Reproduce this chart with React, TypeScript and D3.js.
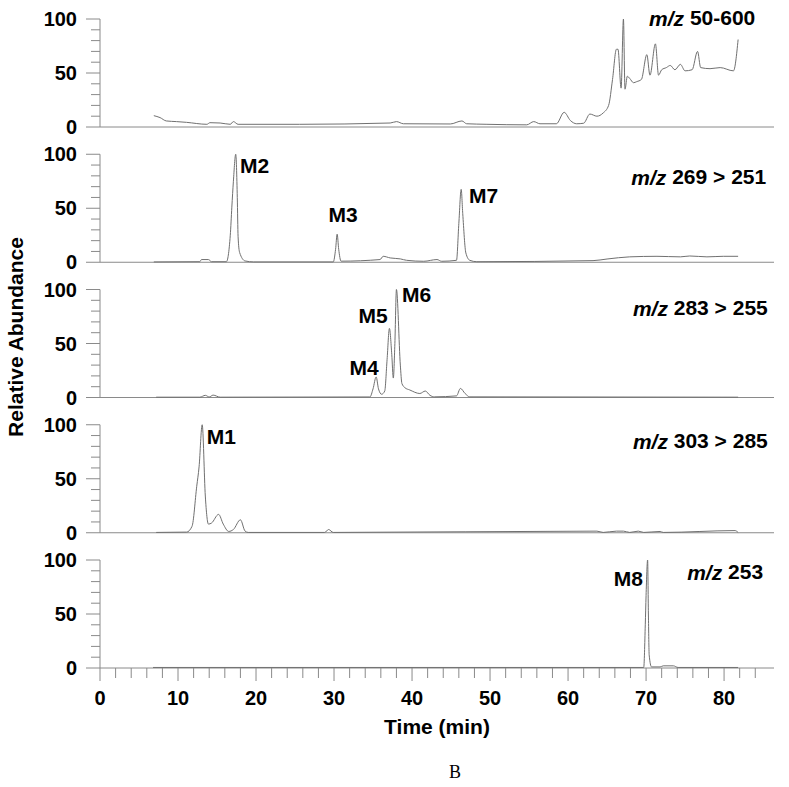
import React from 'react';
import * as d3 from 'd3';

// tick values
const timeTicks = [0, 10, 20, 30, 40, 50, 60, 70, 80];
const minorTimeTicks = d3.range(0, 86, 2);
const abundanceTicks = [0, 50, 100];
const minorAbundanceTicks = d3.range(0, 101, 10);

// channel labels (m/z) and where they sit (time, abundance)
const channelLabels = ['50-600', '269 > 251', '283 > 255', '303 > 285', '253'];
const channelLabelTime = [84.0, 85.4, 85.6, 85.6, 85.0];
const channelLabelAbund = [101, 79, 83, 85, 89];

// TIC, m/z 50-600
const ticTime = [6.9, 7.7, 8.5, 9.8, 11.1, 13.7, 14.1, 15.4, 16.7, 17.1, 17.7, 25.6, 37.2, 38.0, 38.9, 44.9, 46.4, 47.0, 49.6, 54.7, 55.6, 56.4, 58.5, 59.5, 60.3, 61.1, 62.0, 62.8, 63.7, 64.5, 65.2, 65.7, 66.2, 66.4, 66.8, 67.1, 67.3, 67.6, 67.9, 68.4, 68.8, 69.4, 70.1, 70.5, 71.2, 71.6, 72.0, 72.6, 73.1, 73.7, 74.4, 75.0, 75.9, 76.6, 77.0, 78.2, 79.5, 81.2, 81.8];
const ticAbund = [10.5, 8.7, 5.6, 5, 4.3, 2.5, 4, 3.7, 2.5, 5, 2.5, 2.5, 3.7, 5, 3, 2.8, 5.6, 3, 2.5, 2, 5, 3, 3, 13.6, 6, 3, 3.5, 12, 10, 13, 20, 44, 72, 72, 36, 100, 35, 47, 45, 41, 42, 44, 67, 48, 77, 48, 53, 55, 57, 53, 58, 52, 53, 70, 55, 54, 55, 52, 81];

// m/z 269 > 251
const mrm269Time = [6.9, 12.8, 13.0, 13.9, 14.3, 16.2, 16.7, 16.9, 17.1, 17.4, 17.6, 17.7, 17.9, 18.6, 19.7, 29.9, 30.2, 30.4, 30.6, 30.9, 35.9, 36.3, 37.2, 38.5, 39.3, 41.5, 43.2, 43.8, 45.7, 46.0, 46.3, 46.5, 46.9, 47.4, 48.3, 63.2, 65.0, 67.9, 71.4, 74.4, 75.6, 77.8, 79.9, 81.8];
const mrm269Abund = [0.3, 0.5, 2.5, 2.5, 0.5, 0.5, 25, 51, 75, 100, 60, 24, 9, 1.2, 0.3, 0.3, 12, 26, 12, 1, 2.5, 5.5, 4, 3.1, 1.8, 0.9, 2.5, 0.9, 1.8, 36, 67.5, 45, 8.6, 1.8, 0.5, 1.5, 3, 5, 5.5, 5, 5.8, 5, 5.5, 5.5];

// m/z 283 > 255
const mrm283Time = [7.2, 12.8, 13.5, 14.0, 14.5, 15.4, 34.6, 35.0, 35.4, 35.7, 36.1, 36.5, 36.8, 37.1, 37.4, 37.6, 37.8, 38.0, 38.5, 38.7, 39.1, 39.7, 41.0, 41.7, 42.3, 42.9, 45.7, 46.2, 46.8, 47.4, 81.8];
const mrm283Abund = [0.3, 0.3, 2, 0.5, 2.2, 0.3, 0.5, 8, 19, 8, 3, 6, 35, 64, 40, 18, 50, 100, 30, 13, 9, 7, 3.7, 6, 2, 0.6, 1.5, 8.4, 3.7, 0.6, 0.3];

// m/z 303 > 285
const mrm303Time = [7.2, 11.1, 11.8, 12.4, 12.7, 13.1, 13.5, 13.9, 14.3, 15.2, 15.8, 16.5, 17.1, 18.0, 18.6, 19.0, 28.8, 29.3, 29.9, 63.7, 64.5, 66.2, 67.1, 67.9, 69.0, 69.7, 71.8, 72.2, 81.4, 81.8];
const mrm303Abund = [0.3, 0.6, 6, 43, 61, 100, 34, 8, 9, 17, 8, 1.2, 3, 12, 1.5, 0.3, 0.3, 3, 0.3, 1.5, 0.3, 1.5, 1.5, 0.3, 1.5, 0.3, 1.2, 0.3, 2, 0.3];

// m/z 253
const sim253Time = [6.8, 69.7, 69.9, 70.0, 70.2, 70.3, 70.4, 70.7, 71.8, 72.2, 73.5, 74.1, 81.8];
const sim253Abund = [0.5, 0.5, 40, 67, 100, 50, 12, 1, 1, 2, 2, 0.5, 0.5];

const seriesTime = [ticTime, mrm269Time, mrm283Time, mrm303Time, sim253Time];
const seriesAbund = [ticAbund, mrm269Abund, mrm283Abund, mrm303Abund, sim253Abund];

// peak annotations: panel, label, time, abundance, anchor
const peakLabels = ['M2', 'M3', 'M7', 'M4', 'M5', 'M6', 'M1', 'M8'];
const peakPanel = [1, 1, 1, 2, 2, 2, 3, 4];
const peakTime = [17.95, 31.15, 47.3, 33.85, 35.0, 38.7, 13.7, 69.6];
const peakAbund = [90, 44, 62, 28, 75.5, 95, 88.7, 83];
const peakAnchor = ['start', 'middle', 'start', 'middle', 'middle', 'start', 'start', 'end'];

const W = 789;
const H = 787;
const left = 100;
const right = 774;
const firstTop = 19;
const panelStep = 135.25;
const panelH = 108;
const font = 'Liberation Sans, Arial, sans-serif';
const axisColor = '#8a8a8a';
const traceColor = '#707070';

export default function App() {
  const x = d3.scaleLinear().domain([0, 86.4]).range([left, right]);
  const yFor = (i: number) => {
    const top = firstTop + i * panelStep;
    return d3.scaleLinear().domain([0, 100]).range([top + panelH, top]);
  };
  const bottom = firstTop + 4 * panelStep + panelH;

  return (
    <svg width={W} height={H} style={{ position: 'absolute', left: 0, top: 0, background: '#fff' }} fontFamily={font}>
      {seriesTime.map((times, i) => {
        const y = yFor(i);
        const line = d3.line<number>()
          .x((d) => x(times[d]))
          .y((d) => y(seriesAbund[i][d]))
          .curve(d3.curveMonotoneX);
        return (
          <g key={i}>
            {/* y axis */}
            <line x1={left} x2={left} y1={y(100)} y2={y(0)} stroke={axisColor} />
            {minorAbundanceTicks.map((t) => (
              <line key={t} x1={abundanceTicks.includes(t) ? left - 14 : left - 9} x2={left}
                y1={y(t)} y2={y(t)} stroke={axisColor} />
            ))}
            {abundanceTicks.map((t) => (
              <text key={t} x={left - 23} y={y(t)} textAnchor="end" dominantBaseline="central"
                fontSize={20} fontWeight="bold">{t}</text>
            ))}
            {/* baseline */}
            <line x1={left} x2={right} y1={y(0)} y2={y(0)} stroke={axisColor} />
            {/* trace */}
            <path d={line(d3.range(times.length)) || ''} fill="none" stroke={traceColor} strokeWidth={1} />
            {/* channel label */}
            <text x={x(channelLabelTime[i])} y={y(channelLabelAbund[i])} textAnchor="end"
              dominantBaseline="central" fontSize={21} fontWeight="bold">
              <tspan fontStyle="italic">m/z</tspan> {channelLabels[i]}
            </text>
          </g>
        );
      })}

      {peakLabels.map((p, k) => {
        const y = yFor(peakPanel[k]);
        return (
          <text key={p} x={x(peakTime[k])} y={y(peakAbund[k])} textAnchor={peakAnchor[k] as any}
            dominantBaseline="central" fontSize={21} fontWeight="bold">{p}</text>
        );
      })}

      {/* x axis ticks on the bottom panel */}
      {minorTimeTicks.map((t) => (
        <line key={t} x1={x(t)} x2={x(t)} y1={bottom} y2={bottom + (t % 10 === 0 ? 13 : 10)} stroke={axisColor} />
      ))}
      {timeTicks.map((t) => (
        <text key={t} x={x(t)} y={bottom + 30} textAnchor="middle" dominantBaseline="central"
          fontSize={20} fontWeight="bold">{t}</text>
      ))}
      <text x={x(43.2)} y={726} textAnchor="middle" dominantBaseline="central" fontSize={21} fontWeight="bold">
        Time (min)
      </text>
      <text transform={`translate(15, 337) rotate(-90)`} textAnchor="middle" dominantBaseline="central"
        fontSize={21} fontWeight="bold">Relative Abundance</text>
      <text x={455} y={772} textAnchor="middle" dominantBaseline="central" fontSize={18}
        fontFamily="Liberation Serif, Times New Roman, serif">B</text>
    </svg>
  );
}
